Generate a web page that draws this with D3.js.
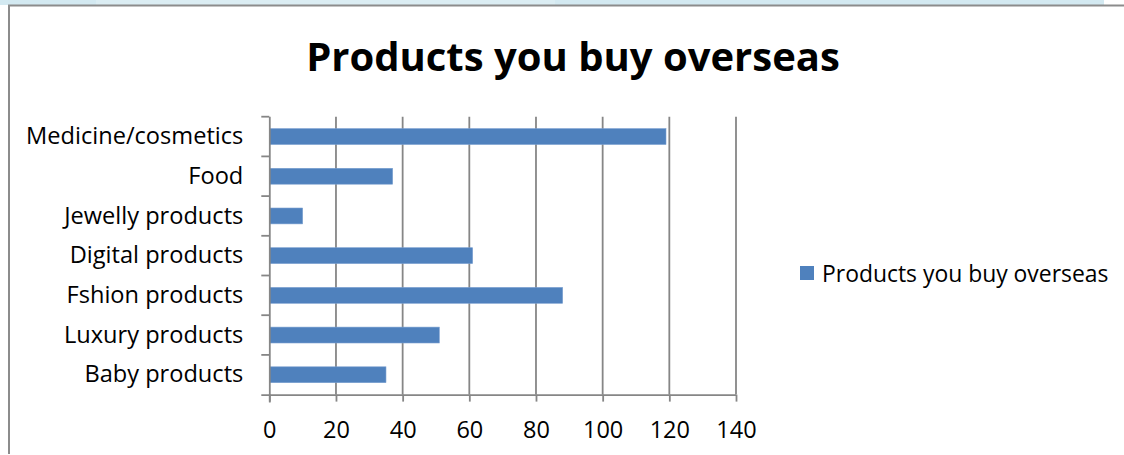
<!DOCTYPE html>
<html>
<head>
<meta charset="utf-8">
<script src="https://cdn.jsdelivr.net/npm/d3@7"></script>
<style>
  html, body { margin: 0; padding: 0; background: #fff; }
  svg { display: block; }
</style>
</head>
<body>
<svg id="chart" width="1124" height="455"></svg>
<script>
// Survey: products bought overseas
const categories = [
  "Medicine/cosmetics",
  "Food",
  "Jewelly products",
  "Digital products",
  "Fshion products",
  "Luxury products",
  "Baby products"
];
const values = [119, 37, 10, 61, 88, 51, 35];
const xTicks = [0, 20, 40, 60, 80, 100, 120, 140];
const seriesName = "Products you buy overseas";
const titleText = "Products you buy overseas";

const FONT = "'Open Sans', Lato, sans-serif";
const barColor = "#4f81bd";
const gridColor = "#868686";
const lineW = 1.8;

const svg = d3.select("#chart");

// window chrome strip along the top edge
svg.append("rect").attr("x", 0).attr("y", 0).attr("width", 1104).attr("height", 5).attr("fill", "#dbedf3");
svg.append("rect").attr("x", 0).attr("y", 0).attr("width", 96).attr("height", 5).attr("fill", "#d3e9f1");
svg.append("rect").attr("x", 555).attr("y", 0).attr("width", 549).attr("height", 5).attr("fill", "#d3e9f1");

// chart frame
svg.append("line").attr("x1", 8).attr("x2", 1124).attr("y1", 5.5).attr("y2", 5.5)
  .attr("stroke", "#8c8c8c").attr("stroke-width", 2);
svg.append("line").attr("x1", 9).attr("x2", 9).attr("y1", 5).attr("y2", 454)
  .attr("stroke", "#8c8c8c").attr("stroke-width", 2);

// title
svg.append("text")
  .attr("x", 573).attr("y", 71)
  .attr("text-anchor", "middle")
  .attr("font-family", FONT)
  .attr("font-weight", "bold")
  .attr("font-size", 40)
  .attr("fill", "#000")
  .text(titleText);

const plot = { left: 269.3, right: 736, top: 116.7, bottom: 394.6 };

const x = d3.scaleLinear().domain([0, 140]).range([plot.left, plot.right]);
const y = d3.scaleBand().domain(categories).range([plot.top, plot.bottom])
  .paddingInner(0.6).paddingOuter(0.3);
const yEdges = d3.scaleBand().domain(categories).range([plot.top, plot.bottom]);

// vertical gridlines
svg.append("g").selectAll("line")
  .data(xTicks.filter(d => d !== 0))
  .join("line")
  .attr("x1", d => x(d)).attr("x2", d => x(d))
  .attr("y1", plot.top).attr("y2", plot.bottom)
  .attr("stroke", gridColor).attr("stroke-width", lineW);

// bars
svg.append("g").selectAll("rect")
  .data(categories.map((c, i) => ({ c, v: values[i] })))
  .join("rect")
  .attr("x", x(0))
  .attr("y", d => y(d.c))
  .attr("width", d => x(d.v) - x(0))
  .attr("height", y.bandwidth())
  .attr("fill", barColor)
  .attr("stroke", "#7a9fd0")
  .attr("stroke-width", 0.6);

// x axis
const xAxis = svg.append("g")
  .attr("transform", `translate(0,${plot.bottom})`)
  .call(d3.axisBottom(x).tickValues(xTicks).tickSize(7).tickSizeOuter(0).tickPadding(20));
xAxis.select(".domain").attr("stroke", gridColor).attr("stroke-width", lineW)
  .attr("d", `M${plot.left - 8},0.5H${plot.right}`);
xAxis.selectAll(".tick line").attr("stroke", gridColor).attr("stroke-width", lineW);
xAxis.selectAll(".tick text")
  .attr("font-family", FONT).attr("font-size", 23.5).attr("fill", "#000");

// y axis: category labels, with ticks at band boundaries
const yAxis = svg.append("g")
  .attr("transform", `translate(${plot.left},0)`)
  .call(d3.axisLeft(y).tickSize(0).tickPadding(26));
yAxis.select(".domain").attr("stroke", gridColor).attr("stroke-width", lineW)
  .attr("d", `M0.5,${plot.top}V${plot.bottom + 8}`);
yAxis.selectAll(".tick text")
  .attr("font-family", FONT).attr("font-size", 23.6).attr("fill", "#000");
yAxis.selectAll(".edge")
  .data(categories)
  .join("line")
  .attr("class", "edge")
  .attr("x1", -8).attr("x2", 0)
  .attr("y1", d => yEdges(d)).attr("y2", d => yEdges(d))
  .attr("stroke", gridColor).attr("stroke-width", lineW);

// legend
const legend = svg.append("g").attr("transform", "translate(800,266)");
legend.append("rect").attr("width", 14).attr("height", 14).attr("fill", barColor);
legend.append("text")
  .attr("x", 22).attr("y", 15.5)
  .attr("font-family", FONT).attr("font-size", 22.9).attr("fill", "#000")
  .text(seriesName);
</script>
</body>
</html>
